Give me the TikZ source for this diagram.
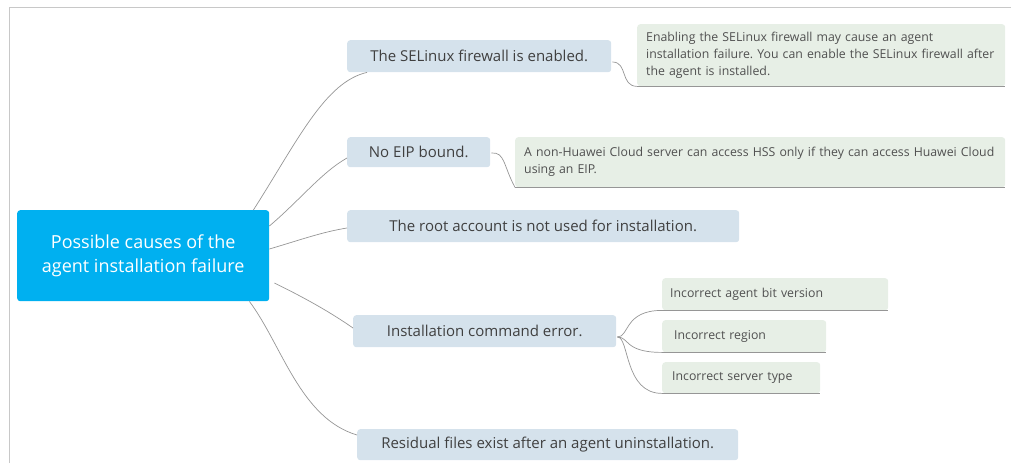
\documentclass[tikz,border=0pt]{standalone}
\usepackage{fontspec}
\setmainfont{Open Sans}
\definecolor{rootblue}{RGB}{0,176,240}
\definecolor{topicfill}{RGB}{213,226,236}
\definecolor{notefill}{RGB}{231,239,230}
\definecolor{notetext}{RGB}{80,80,80}
\definecolor{topictext}{RGB}{64,64,64}
\definecolor{wire}{RGB}{150,150,150}
\definecolor{frameline}{RGB}{200,200,200}
\begin{document}
\frenchspacing
\begin{tikzpicture}[x=1pt,y=-1pt,
  rootbox/.style={fill=rootblue, text=white, rounded corners=3pt, inner sep=0pt,
    align=center, font=\fontsize{18}{24}\selectfont, anchor=north west},
  topic/.style={fill=topicfill, text=topictext, rounded corners=3pt, inner sep=0pt,
    font=\fontsize{15}{18}\selectfont, anchor=north west},
  note/.style={fill=notefill, text=notetext, rounded corners=3pt, inner sep=0pt,
    font=\fontsize{12.3}{17}\selectfont, anchor=north west},
  underline/.style={draw=wire, line width=1pt},
  conn/.style={draw=wire, line width=0.7pt}]
\useasboundingbox (0,0) rectangle (1011,463);
% frame
\draw[frameline, line width=1pt] (9,463) -- (9,7) -- (1011,7);

% central topic
\node[rootbox, minimum width=252pt, minimum height=91pt] (root) at (17,210)
  {Possible causes of the\\agent installation failure};

% main branches
\node[topic, minimum width=264pt, minimum height=32pt] (selinux) at (347,40)
  {The SELinux firewall is enabled.};
\node[topic, minimum width=143pt, minimum height=30pt] (eip) at (347,137)
  {No EIP bound.};
\node[topic, minimum width=392pt, minimum height=32pt] (rootacct) at (347,210)
  {The root account is not used for installation.};
\node[topic, minimum width=263pt, minimum height=32pt] (cmd) at (353,315)
  {Installation command error.};
\node[topic, minimum width=381pt, minimum height=31pt] (residual) at (357,429)
  {Residual files exist after an agent uninstallation.};

% explanations
\node[note, minimum width=368pt, minimum height=62pt, text width=368pt, align=left] (n1) at (637,24)
  {\hspace*{9pt}\parbox{355pt}{Enabling the SELinux firewall may cause an agent\\installation failure. You can enable the SELinux firewall after\\the agent is installed.}};
\node[note, minimum width=490pt, minimum height=50pt, text width=490pt, align=left] (n2) at (515,137)
  {\hspace*{9pt}\parbox{478pt}{A non-Huawei Cloud server can access HSS only if they can access Huawei Cloud\\using an EIP.}};
\node[note, minimum width=226pt, minimum height=32pt, text width=226pt, align=left] (s1) at (662,278)
  {\hspace*{8pt}Incorrect agent bit version};
\node[note, minimum width=164pt, minimum height=32pt, text width=164pt, align=left] (s2) at (662,320)
  {\hspace*{12pt}Incorrect region};
\node[note, minimum width=158pt, minimum height=31pt, text width=158pt, align=left] (s3) at (662,362)
  {\hspace*{10pt}Incorrect server type};

% note underlines
\foreach \n in {n1,n2,s1,s2,s3}
  \draw[underline] (\n.south west) -- (\n.south east);

% branches from the central topic
\draw[conn] ([xshift=-16pt]root.north east) .. controls (298,140) and (325,82) .. ([xshift=20pt]selinux.south west);
\draw[conn] ([yshift=-16pt]root.north east) .. controls (300,200) and (322,172) .. ([yshift=-21pt]eip.north west);
\draw[conn] ([yshift=-39pt]root.north east) .. controls (300,240) and (322,232) .. ([yshift=-18pt]rootacct.north west);
\draw[conn] ([xshift=5pt,yshift=-73pt]root.north east) .. controls (305,298) and (330,312) .. ([yshift=-13pt]cmd.north west);
\draw[conn] ([xshift=-20pt]root.south east) .. controls (282,345) and (300,418) .. ([yshift=-6pt]residual.north west);

% links to the explanations
\draw[conn] ([xshift=1pt,yshift=-22pt]selinux.north east) .. controls (628,62) and (620,86) .. (n1.south west);
\draw[conn] ([xshift=1pt,yshift=-16pt]eip.north east) .. controls (505,152) and (503,165) .. (n2.south west);
\coordinate (fork) at ([xshift=1pt,yshift=-22pt]cmd.north east);
\foreach \s in {s1,s2,s3}
  \draw[conn] (fork) .. controls ([xshift=12pt]fork) and ([xshift=-38pt]\s.south west) .. (\s.south west);
\end{tikzpicture}
\end{document}
